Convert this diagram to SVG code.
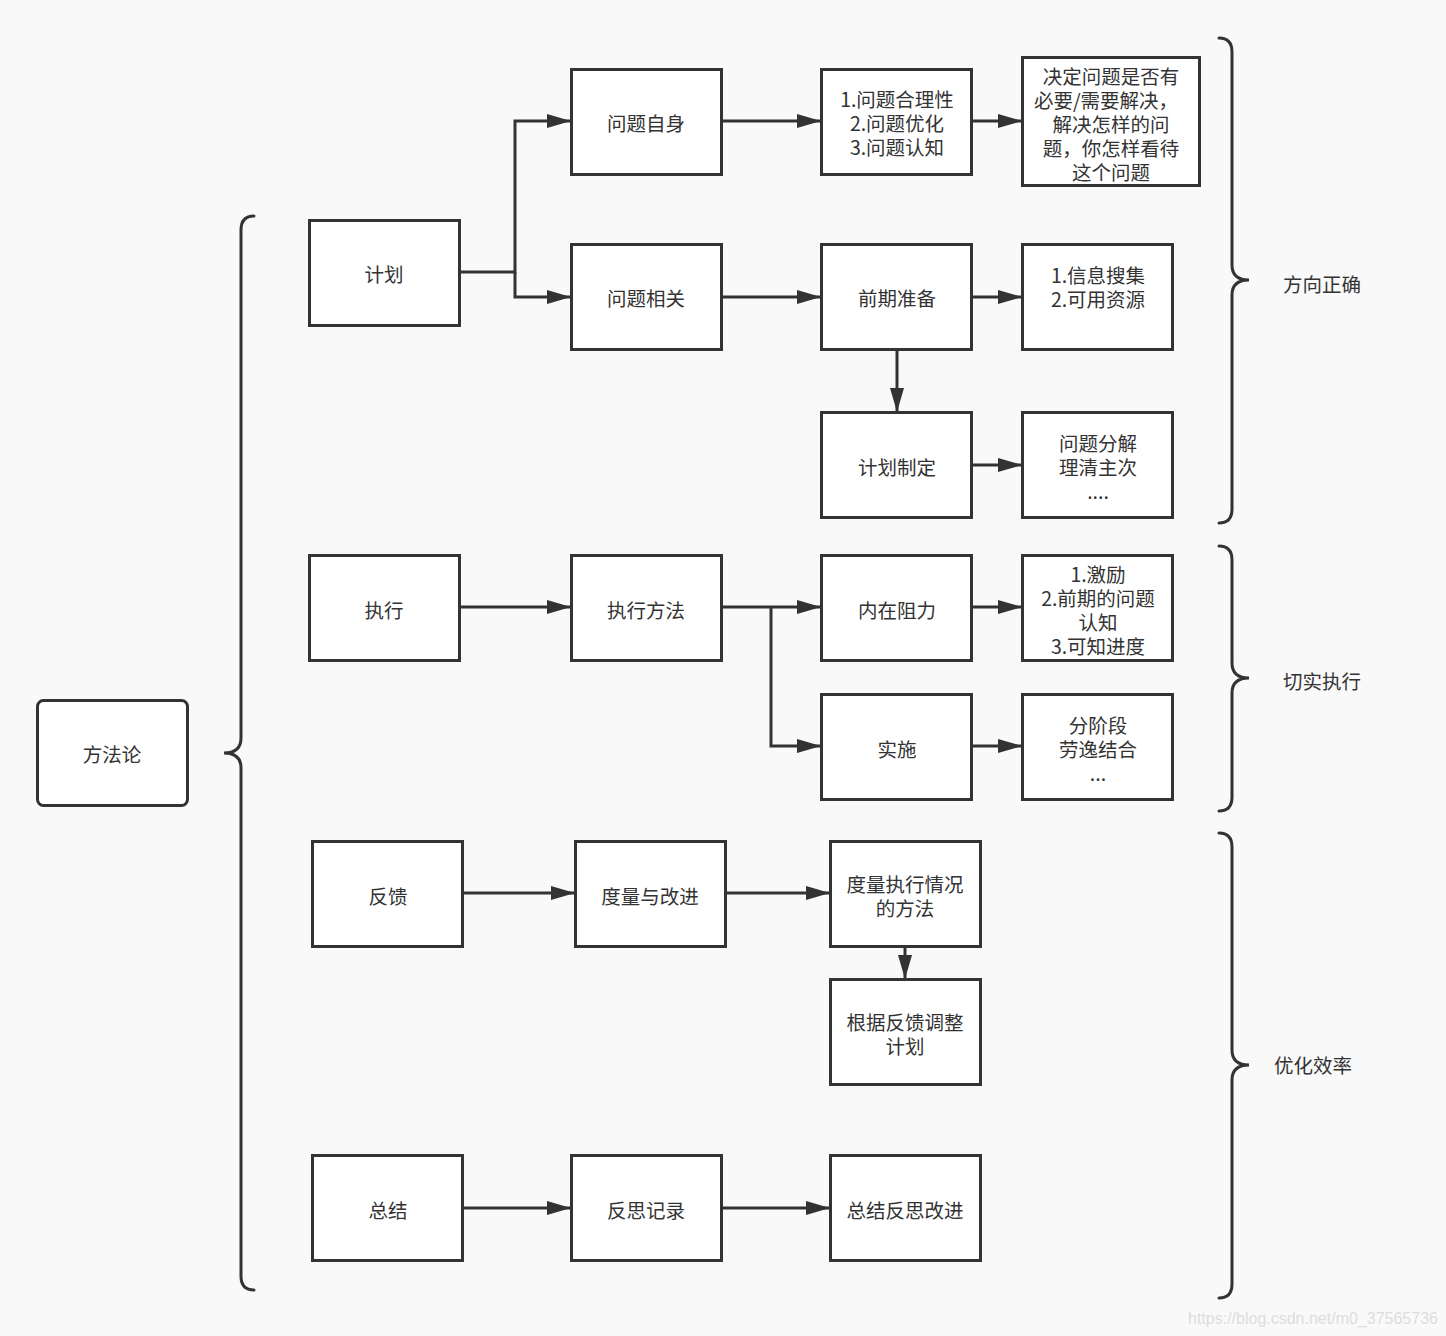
<svg xmlns="http://www.w3.org/2000/svg" width="1446" height="1336" viewBox="0 0 1446 1336">
<defs>
<style>
.bg{fill:#f9f9f9}
.box{fill:#ffffff;stroke:#333333;stroke-width:3}
.t{font-family:"Noto Sans CJK SC","Noto Sans",sans-serif;font-size:19.5px;fill:#333333;text-anchor:middle;dominant-baseline:central}
.c{fill:none;stroke:#333333;stroke-width:3}
.br{fill:none;stroke:#333333;stroke-width:3;stroke-linecap:round}
.wm{font-family:"Liberation Sans",Arial,sans-serif;font-size:16px;fill:#dddddd}
</style>
<marker id="ah" viewBox="0 0 24 14" refX="24" refY="7" markerWidth="24" markerHeight="14" markerUnits="userSpaceOnUse" orient="auto">
<path d="M0,0 L24,7 L0,14 Z" fill="#333333"/>
</marker>
</defs>
<rect class="bg" x="0" y="0" width="1446" height="1336"/>

<g id="braces">
<path class="br" d="M254,216 Q241,216 241,230 L241,738 Q241,753 224,753 Q241,753 241,768 L241,1276 Q241,1290 254,1290"/>
<path class="br" d="M1219,38 Q1232,38 1232,52 L1232,265 Q1232,280 1249,280 Q1232,280 1232,295 L1232,509 Q1232,523 1219,523"/>
<path class="br" d="M1219,546 Q1232,546 1232,560 L1232,663 Q1232,678 1249,678 Q1232,678 1232,693 L1232,797 Q1232,811 1219,811"/>
<path class="br" d="M1219,833 Q1232,833 1232,847 L1232,1050 Q1232,1065 1249,1065 Q1232,1065 1232,1080 L1232,1284 Q1232,1298 1219,1298"/>
</g>

<g id="connectors">
<path class="c" d="M459,272 L515,272 L515,121 L571,121" marker-end="url(#ah)"/>
<path class="c" d="M515,272 L515,297 L571,297" marker-end="url(#ah)"/>
<path class="c" d="M721,121 L821,121" marker-end="url(#ah)"/>
<path class="c" d="M972,121 L1022,121" marker-end="url(#ah)"/>
<path class="c" d="M721,297 L821,297" marker-end="url(#ah)"/>
<path class="c" d="M972,297 L1022,297" marker-end="url(#ah)"/>
<path class="c" d="M897,349 L897,412" marker-end="url(#ah)"/>
<path class="c" d="M972,465 L1022,465" marker-end="url(#ah)"/>
<path class="c" d="M459,607 L571,607" marker-end="url(#ah)"/>
<path class="c" d="M721,607 L821,607" marker-end="url(#ah)"/>
<path class="c" d="M771,607 L771,746 L821,746" marker-end="url(#ah)"/>
<path class="c" d="M972,607 L1022,607" marker-end="url(#ah)"/>
<path class="c" d="M972,746 L1022,746" marker-end="url(#ah)"/>
<path class="c" d="M463,893 L575,893" marker-end="url(#ah)"/>
<path class="c" d="M725,893 L830,893" marker-end="url(#ah)"/>
<path class="c" d="M905,946 L905,979" marker-end="url(#ah)"/>
<path class="c" d="M463,1208 L571,1208" marker-end="url(#ah)"/>
<path class="c" d="M721,1208 L830,1208" marker-end="url(#ah)"/>
</g>

<g id="n-fangfalun"><rect class="box" x="37.5" y="700.5" width="150" height="105" rx="6"/><text class="t" x="112" y="753">方法论</text></g>

<g id="n-jihua"><rect class="box" x="309.5" y="220.5" width="150" height="105"/><text class="t" x="384" y="273">计划</text></g>
<g id="n-wentizishen"><rect class="box" x="571.5" y="69.5" width="150" height="105"/><text class="t" x="646" y="122">问题自身</text></g>
<g id="n-wentixiangguan"><rect class="box" x="571.5" y="244.5" width="150" height="105"/><text class="t" x="646" y="297">问题相关</text></g>
<g id="n-heli"><rect class="box" x="821.5" y="69.5" width="150" height="105"/><text class="t" x="897" y="98">1.问题合理性</text><text class="t" x="897" y="122">2.问题优化</text><text class="t" x="897" y="146">3.问题认知</text></g>
<g id="n-jueding"><rect class="box" x="1022.5" y="57.5" width="177" height="128"/><text class="t" x="1111" y="75">决定问题是否有</text><text class="t" x="1106" y="99">必要/需要解决，</text><text class="t" x="1111" y="123">解决怎样的问</text><text class="t" x="1111" y="147">题，你怎样看待</text><text class="t" x="1111" y="171">这个问题</text></g>
<g id="n-qianqi"><rect class="box" x="821.5" y="244.5" width="150" height="105"/><text class="t" x="897" y="297">前期准备</text></g>
<g id="n-xinxi"><rect class="box" x="1022.5" y="244.5" width="150" height="105"/><text class="t" x="1098" y="274">1.信息搜集</text><text class="t" x="1098" y="298">2.可用资源</text></g>
<g id="n-jihuazhiding"><rect class="box" x="821.5" y="412.5" width="150" height="105"/><text class="t" x="897" y="466">计划制定</text></g>
<g id="n-fenjie"><rect class="box" x="1022.5" y="412.5" width="150" height="105"/><text class="t" x="1098" y="442">问题分解</text><text class="t" x="1098" y="466">理清主次</text><text class="t" x="1098" y="490">....</text></g>

<g id="n-zhixing"><rect class="box" x="309.5" y="555.5" width="150" height="105"/><text class="t" x="384" y="609">执行</text></g>
<g id="n-zhixingfangfa"><rect class="box" x="571.5" y="555.5" width="150" height="105"/><text class="t" x="646" y="609">执行方法</text></g>
<g id="n-neizai"><rect class="box" x="821.5" y="555.5" width="150" height="105"/><text class="t" x="897" y="609">内在阻力</text></g>
<g id="n-jili"><rect class="box" x="1022.5" y="555.5" width="150" height="105"/><text class="t" x="1098" y="573">1.激励</text><text class="t" x="1098" y="597">2.前期的问题</text><text class="t" x="1098" y="621">认知</text><text class="t" x="1098" y="645">3.可知进度</text></g>
<g id="n-shishi"><rect class="box" x="821.5" y="694.5" width="150" height="105"/><text class="t" x="897" y="748">实施</text></g>
<g id="n-fenjieduan"><rect class="box" x="1022.5" y="694.5" width="150" height="105"/><text class="t" x="1098" y="724">分阶段</text><text class="t" x="1098" y="748">劳逸结合</text><text class="t" x="1098" y="772">...</text></g>

<g id="n-fankui"><rect class="box" x="312.5" y="841.5" width="150" height="105"/><text class="t" x="388" y="895">反馈</text></g>
<g id="n-duliang"><rect class="box" x="575.5" y="841.5" width="150" height="105"/><text class="t" x="650" y="895">度量与改进</text></g>
<g id="n-duliangzhixing"><rect class="box" x="830.5" y="841.5" width="150" height="105"/><text class="t" x="905" y="883">度量执行情况</text><text class="t" x="905" y="907">的方法</text></g>
<g id="n-genju"><rect class="box" x="830.5" y="979.5" width="150" height="105"/><text class="t" x="905" y="1021">根据反馈调整</text><text class="t" x="905" y="1045">计划</text></g>

<g id="n-zongjie"><rect class="box" x="312.5" y="1155.5" width="150" height="105"/><text class="t" x="388" y="1209">总结</text></g>
<g id="n-fansi"><rect class="box" x="571.5" y="1155.5" width="150" height="105"/><text class="t" x="646" y="1209">反思记录</text></g>
<g id="n-zongjiefansi"><rect class="box" x="830.5" y="1155.5" width="150" height="105"/><text class="t" x="905" y="1209">总结反思改进</text></g>

<g id="labels">
<text class="t" x="1322" y="283">方向正确</text>
<text class="t" x="1322" y="680">切实执行</text>
<text class="t" x="1313" y="1064">优化效率</text>
</g>
<text class="wm" x="1188" y="1324">https://blog.csdn.net/m0_37565736</text>
</svg>
